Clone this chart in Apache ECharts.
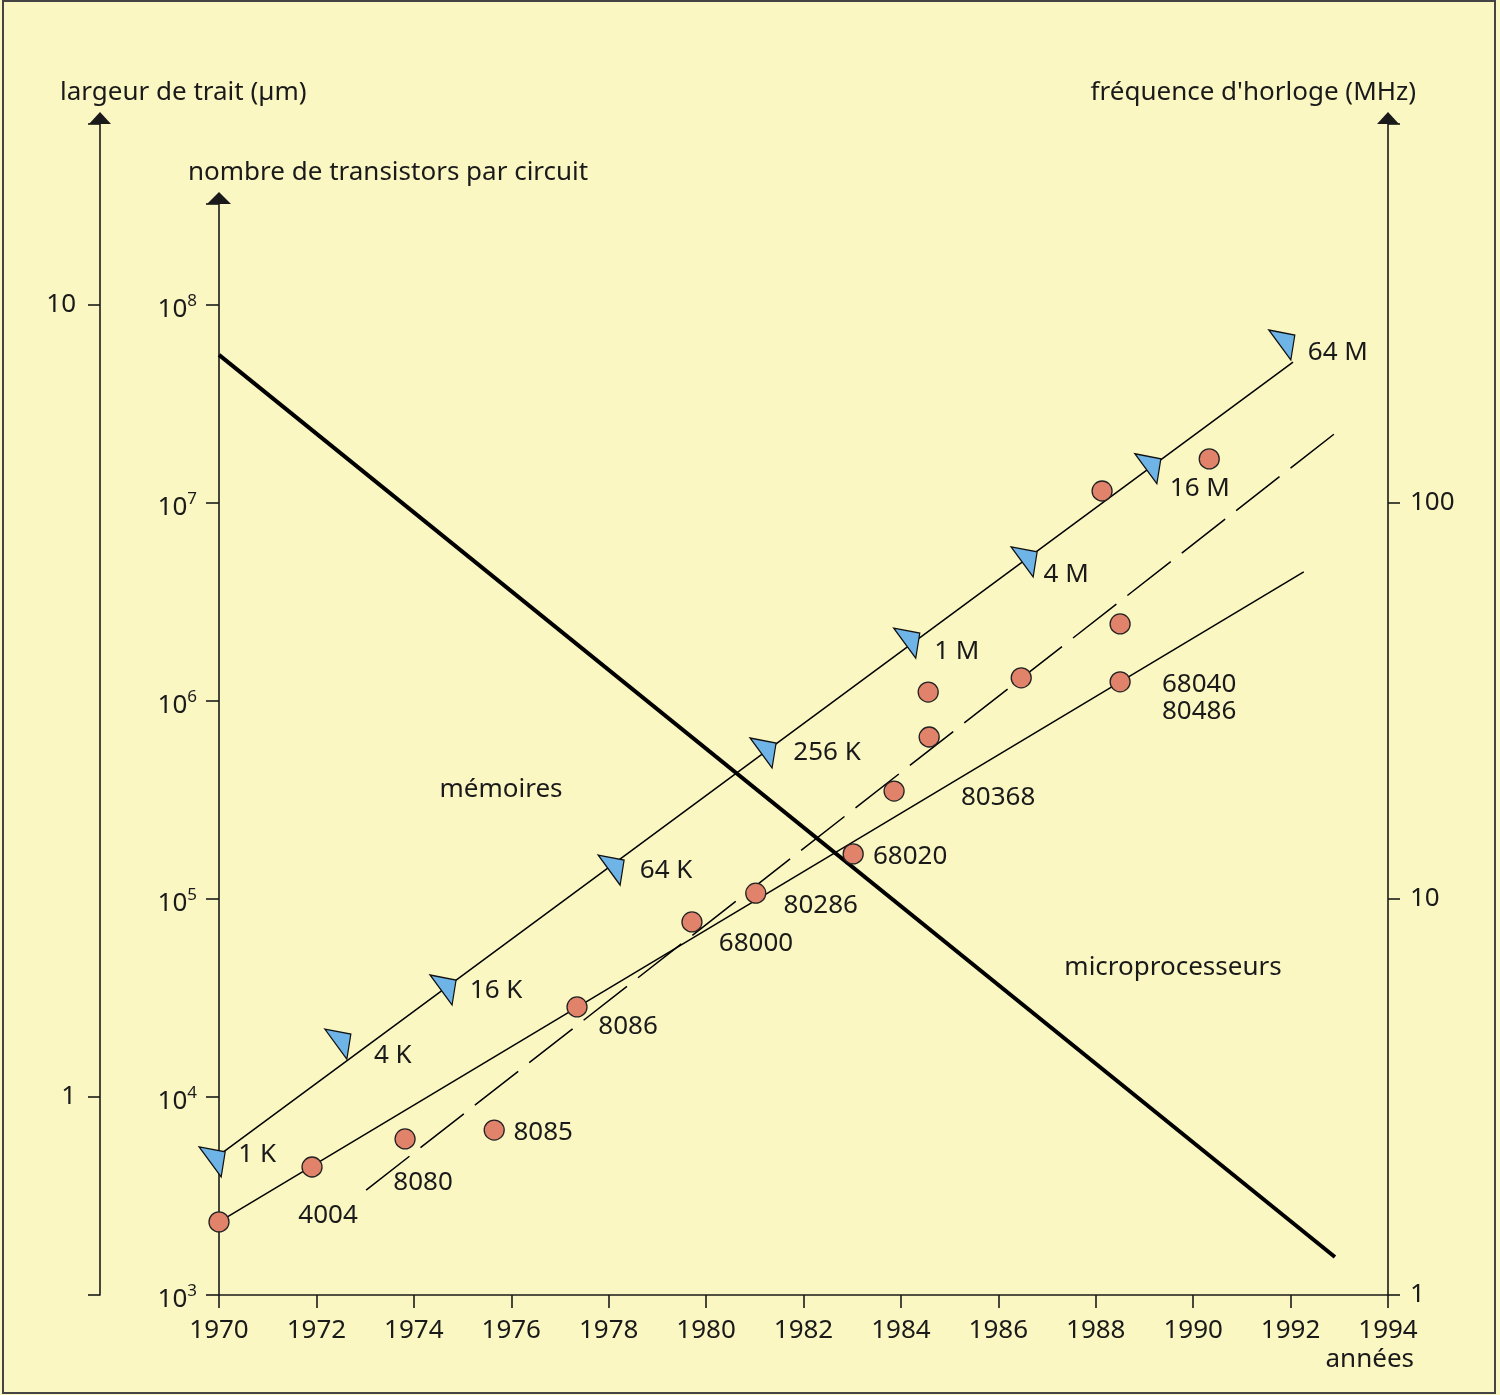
<!DOCTYPE html>
<html>
<head>
<meta charset="utf-8">
<script src="https://cdn.jsdelivr.net/npm/echarts@6/dist/echarts.min.js"></script>
<style>
html,body{margin:0;padding:0;background:#FAF7C3;}
#chart{width:1500px;height:1395px;}
</style>
</head>
<body>
<div id="chart"></div>
<script>
// ---------- data ----------
const yearTicks = [1970,1972,1974,1976,1978,1980,1982,1984,1986,1988,1990,1992,1994];
// memories (transistors per circuit)
const memNames  = ['1 K','4 K','16 K','64 K','256 K','1 M','4 M','16 M','64 M'];
const memYears  = [1969.86,1972.44,1974.60,1978.05,1981.17,1984.12,1986.53,1989.07,1991.82];
const memValues = [4.70e3,1.85e4,3.47e4,1.40e5,5.46e5,1.96e6,5.04e6,1.49e7,6.28e7];
const memTrendYears  = [1970.1,1992.05];
const memTrendValues = [5.3e3,5.15e7];
// microprocessors (transistors per circuit)
const cpuNames  = ['','4004','8080','8085','8086','68000','80286','68020','80368','','','','','','68040\n80486',''];
const cpuYears  = [1970.0,1971.91,1973.82,1975.65,1977.35,1979.71,1981.02,1983.02,1983.86,1984.56,1984.58,1986.47,1988.13,1988.50,1988.50,1990.33];
const cpuValues = [2.34e3,4.43e3,6.14e3,6.81e3,2.85e4,7.66e4,1.07e5,1.69e5,3.51e5,1.11e6,6.58e5,1.31e6,1.15e7,2.45e6,1.25e6,1.67e7];
const cpuTrendYears  = [1970.0,1992.27];
const cpuTrendValues = [2.34e3,4.49e6];
// clock frequency trend (MHz)
const freqTrendYears  = [1973.02,1993.08];
const freqTrendValues = [1.84,155.6];
// line width trend (µm)
const widthTrendYears  = [1970.0,1992.91];
const widthTrendValues = [8.65,0.628];

// ---------- layout (label placement, px offsets from the mark centre) ----------
const memLabelOffsets = [[45,-7],[55,11],[53,1],[55,1],[64,0],[50,8],[42,13],[52,20],[56,8]];
const cpuLabelOffsets = [[0,0],[16,49],[18,44],[49,3],[51,20],[64,22],[65,12],[57,3],[104,7],[0,0],[0,0],[0,0],[0,0],[0,0],[79,16],[0,0]];

const FONT = '"Noto Sans", "DejaVu Sans", sans-serif';
const FS = 26;
const INK = '#1a1a1a';
function isPow(v){ const e=Math.log10(v); return Math.abs(e-Math.round(e))<1e-6; }

const zip = (xs, ys) => xs.map((x,i)=>[x, ys[i]]);

const chart = echarts.init(document.getElementById('chart'), null, {renderer:'canvas'});
const axisLineStyle = {color: INK, width: 1.6};

const option = {
  backgroundColor: '#FAF7C3',
  animation: false,
  textStyle: {fontFamily: FONT},
  grid: [
    {left: 219, right: 112, top: 204, bottom: 100},
    {left: 219, right: 112, top: 124, bottom: 100}
  ],
  xAxis: [
    {
      gridIndex: 0, type: 'value', min: 1970, max: 1994, interval: 2,
      axisLine: {show: true, lineStyle: axisLineStyle},
      axisTick: {show: true, length: 13, lineStyle: axisLineStyle},
      axisLabel: {fontSize: FS, color: INK, margin: 23, fontFamily: FONT, formatter: v => String(v)},
      splitLine: {show: false}
    },
    {gridIndex: 1, type: 'value', min: 1970, max: 1994, show: false, splitLine: {show: false}}
  ],
  yAxis: [
    { // transistors
      gridIndex: 0, type: 'log', logBase: 10, min: 1e3, max: Math.pow(10, 3 + 1091/198),
      position: 'left',
      axisLine: {show: true, lineStyle: axisLineStyle, symbol: ['none','triangle'], symbolSize: [24, 12], symbolOffset: [0, 6]},
      axisTick: {show: true, length: 13, lineStyle: axisLineStyle},
      axisLabel: {color: INK, margin: 22, fontFamily: FONT, padding: [5, 0, 0, 0],
        formatter: v => { if (!isPow(v)) return ''; const e = Math.round(Math.log10(v)); return '{b|10}{s|' + e + '}'; },
        rich: {
          b: {fontSize: FS, fontFamily: FONT, color: INK, verticalAlign: 'bottom', lineHeight: 30},
          s: {fontSize: 17, fontFamily: FONT, color: INK, verticalAlign: 'top', lineHeight: 20}
        }},
      splitLine: {show: false}, minorTick: {show: false}
    },
    { // line width
      gridIndex: 1, type: 'log', logBase: 10, min: Math.pow(10, -0.25), max: Math.pow(10, 973/792),
      position: 'left', offset: 119,
      axisLine: {show: true, lineStyle: axisLineStyle, symbol: ['none','triangle'], symbolSize: [22, 12], symbolOffset: [0, 6]},
      axisTick: {show: true, length: 12, lineStyle: axisLineStyle},
      axisLabel: {fontSize: FS, color: INK, margin: 24, fontFamily: FONT, padding: [6, 0, 0, 0],
        formatter: v => isPow(v) ? String(Math.round(v)) : ''},
      splitLine: {show: false}
    },
    { // clock frequency
      gridIndex: 1, type: 'log', logBase: 10, min: 1, max: Math.pow(10, 1171/396),
      position: 'right',
      axisLine: {show: true, lineStyle: axisLineStyle, symbol: ['none','triangle'], symbolSize: [22, 12], symbolOffset: [0, 6]},
      axisTick: {show: true, length: 12, lineStyle: axisLineStyle},
      axisLabel: {fontSize: FS, color: INK, margin: 22, fontFamily: FONT, padding: [6, 0, 0, 0],
        formatter: v => isPow(v) ? String(Math.round(v)) : ''},
      splitLine: {show: false}
    }
  ],
  series: [
    {
      name: 'largeur de trait', type: 'line', xAxisIndex: 1, yAxisIndex: 1,
      data: zip(widthTrendYears, widthTrendValues), symbol: 'none',
      lineStyle: {color: '#000', width: 4}, z: 3, silent: true
    },
    {
      name: 'fréquence', type: 'line', xAxisIndex: 1, yAxisIndex: 2,
      data: zip(freqTrendYears, freqTrendValues), symbol: 'none',
      lineStyle: {color: '#000', width: 1.5, type: [55, 14]}, z: 2, silent: true
    },
    {
      name: 'mémoires (tendance)', type: 'line', xAxisIndex: 0, yAxisIndex: 0,
      data: zip(memTrendYears, memTrendValues), symbol: 'none',
      lineStyle: {color: '#000', width: 1.5}, z: 2, silent: true
    },
    {
      name: 'microprocesseurs (tendance)', type: 'line', xAxisIndex: 0, yAxisIndex: 0,
      data: zip(cpuTrendYears, cpuTrendValues), symbol: 'none',
      lineStyle: {color: '#000', width: 1.5}, z: 2, silent: true
    },
    {
      name: 'mémoires', type: 'scatter', xAxisIndex: 0, yAxisIndex: 0, clip: false,
      symbol: 'path://M0,0 L26,5 L22,30 Z', symbolSize: [26, 30],
      itemStyle: {color: '#6EB4E6', borderColor: '#111', borderWidth: 1.3, opacity: 1},
      z: 6,
      data: memYears.map((y,i)=>({
        value: [y, memValues[i]],
        label: {show: true, formatter: memNames[i], position: 'inside', offset: memLabelOffsets[i],
                fontSize: FS, color: INK, fontFamily: FONT}
      }))
    },
    {
      name: 'microprocesseurs', type: 'scatter', xAxisIndex: 0, yAxisIndex: 0, clip: false,
      symbol: 'circle', symbolSize: 20,
      itemStyle: {color: '#E1826A', borderColor: '#222', borderWidth: 1.3, opacity: 1},
      z: 6,
      data: cpuYears.map((y,i)=>({
        value: [y, cpuValues[i]],
        label: {show: !!cpuNames[i], formatter: cpuNames[i], position: 'inside', offset: cpuLabelOffsets[i],
                fontSize: FS, color: INK, fontFamily: FONT, lineHeight: 27}
      }))
    }
  ],
  graphic: [
    {type: 'rect', shape: {x: 3, y: 1, width: 1492, height: 1392}, style: {fill: 'none', stroke: '#444', lineWidth: 2}, silent: true, z: 100},
    {type: 'text', x: 60, y: 93, style: {text: 'largeur de trait (µm)', font: FS + 'px ' + FONT, fill: INK, textAlign: 'left', textVerticalAlign: 'middle', align: 'left', verticalAlign: 'middle'}},
    {type: 'text', x: 188, y: 173, style: {text: 'nombre de transistors par circuit', font: FS + 'px ' + FONT, fill: INK, textAlign: 'left', textVerticalAlign: 'middle', align: 'left', verticalAlign: 'middle'}},
    {type: 'text', x: 1416, y: 93, style: {text: 'fréquence d\'horloge (MHz)', font: FS + 'px ' + FONT, fill: INK, textAlign: 'right', textVerticalAlign: 'middle', align: 'right', verticalAlign: 'middle'}},
    {type: 'text', x: 1414, y: 1360, style: {text: 'années', font: FS + 'px ' + FONT, fill: INK, textAlign: 'right', textVerticalAlign: 'middle', align: 'right', verticalAlign: 'middle'}},
    {type: 'text', x: 501, y: 790, style: {text: 'mémoires', font: FS + 'px ' + FONT, fill: INK, textAlign: 'center', textVerticalAlign: 'middle', align: 'center', verticalAlign: 'middle'}},
    {type: 'text', x: 1173, y: 968, style: {text: 'microprocesseurs', font: FS + 'px ' + FONT, fill: INK, textAlign: 'center', textVerticalAlign: 'middle', align: 'center', verticalAlign: 'middle'}}
  ]
};
chart.setOption(option);
</script>
</body>
</html>
